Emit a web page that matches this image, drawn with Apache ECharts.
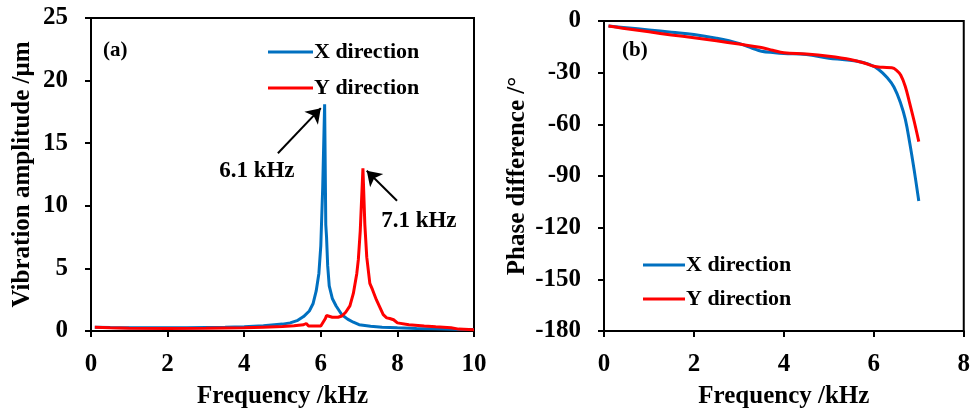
<!DOCTYPE html>
<html>
<head>
<meta charset="utf-8">
<script src="https://cdn.jsdelivr.net/npm/echarts@6/dist/echarts.min.js"></script>
<style>
  html, body { margin: 0; padding: 0; background: #fff; }
  #main { width: 973px; height: 414px; }
</style>
</head>
<body>
<div id="main"></div>
<script>
// (a) vibration amplitude spectra
const ampFreqX = [0.1,0.5,1,1.5,2,2.5,3,3.5,4,4.5,5,5.2,5.4,5.55,5.7,5.8,5.88,5.95,6.0,6.05,6.1,6.13,6.15,6.18,6.22,6.3,6.4,6.55,6.7,6.85,7.0,7.3,7.6,8.0,8.5,9.0,9.5,10];
const ampX     = [0.3,0.28,0.26,0.25,0.25,0.26,0.28,0.3,0.34,0.42,0.55,0.65,0.85,1.15,1.6,2.2,3.2,4.6,6.8,11.5,18.1,8.5,7.5,5.2,3.6,2.6,2.0,1.3,0.95,0.7,0.5,0.38,0.3,0.25,0.2,0.17,0.14,0.12];
const ampFreqY = [0.1,0.5,1,2,3,4,4.5,5,5.3,5.55,5.62,5.68,5.8,6.0,6.05,6.12,6.15,6.3,6.45,6.55,6.65,6.76,6.85,6.94,6.98,7.03,7.1,7.15,7.2,7.28,7.35,7.45,7.63,7.72,7.8,7.9,8.0,8.3,8.7,9.0,9.4,9.6,10];
const ampY     = [0.3,0.25,0.22,0.2,0.22,0.25,0.3,0.35,0.42,0.5,0.6,0.4,0.4,0.4,0.4,1.0,1.24,1.1,1.1,1.2,1.5,2.0,3.0,4.6,5.7,8.0,13.0,8.5,5.9,3.8,3.3,2.5,1.3,1.05,1.0,0.9,0.65,0.5,0.4,0.33,0.26,0.15,0.1];

// resonance peaks [frequency kHz, amplitude µm]
const peakX = [6.1, 18.1];
const peakY = [7.1, 13.0];

// (b) phase difference
const phaseFreqX = [0.1,0.5,1,1.5,2,2.5,3,3.3,3.5,3.8,4,4.5,5,5.3,5.6,5.9,6.1,6.3,6.45,6.6,6.7,6.8,6.9,7.0];
const phaseX     = [-2.9,-3.9,-5.2,-6.5,-7.8,-10.0,-13.0,-15.8,-17.6,-18.4,-18.8,-19.5,-21.6,-22.4,-23.2,-25.2,-28.0,-33,-38.5,-48,-57,-71,-87,-104.5];
const phaseFreqY = [0.1,0.5,1,1.5,2,2.5,3,3.5,3.75,4,4.5,5,5.5,5.8,6.0,6.2,6.4,6.5,6.6,6.7,6.8,6.9,7.0];
const phaseY     = [-2.9,-4.5,-6.3,-8.1,-9.7,-11.5,-13.4,-15.4,-17,-18.5,-19.2,-20.5,-22.5,-24.5,-26.3,-26.9,-27.2,-28.5,-31.5,-38,-48,-58.5,-70];

const seriesNames = ['X direction', 'Y direction'];
const colors = ['#0070C0', '#FF0000'];
const ampTicks = [0, 25, 5];
const ampFreqTicks = [0, 10, 2];
const phaseTicks = [-180, 0, 30];
const phaseFreqTicks = [0, 8, 2];

const zip = (a, b) => a.map((v, i) => [v, b[i]]);
const FONT = 'Liberation Serif';

const axisCommon = {
  axisLine: { show: true, onZero: false, lineStyle: { color: '#000', width: 2 } },
  axisTick: { show: true, inside: false, length: 6, lineStyle: { color: '#000', width: 2 } },
  splitLine: { show: false },
  axisLabel: { color: '#000', fontFamily: FONT, fontWeight: 'bold', fontSize: 25 },
  nameTextStyle: { color: '#000', fontFamily: FONT, fontWeight: 'bold', fontSize: 25 },
  nameLocation: 'middle'
};

function xAxis(grid, t) {
  return Object.assign({}, axisCommon, {
    type: 'value', gridIndex: grid, min: t[0], max: t[1], interval: t[2],
    name: 'Frequency /kHz', nameGap: 53,
    axisLabel: Object.assign({}, axisCommon.axisLabel, { margin: 21 })
  });
}
function yAxis(grid, t, name, gap) {
  return Object.assign({}, axisCommon, {
    type: 'value', gridIndex: grid, min: t[0], max: t[1], interval: t[2],
    name: name, nameGap: gap, nameRotate: 90,
    axisLabel: Object.assign({}, axisCommon.axisLabel, { margin: 23 })
  });
}

function line(name, data, xi, yi, color, smooth) {
  return {
    name: name, type: 'line', xAxisIndex: xi, yAxisIndex: yi, data: data,
    showSymbol: false, symbol: 'none', smooth: smooth,
    lineStyle: { color: color, width: 3 }, itemStyle: { color: color },
    animation: false, z: 3
  };
}

// arrow from a label anchor to a point just beside the peak
function arrow(from, to) {
  return [{ coord: from, symbol: 'none' }, { coord: to, symbol: 'arrow', symbolSize: 14 }];
}
function note(text, at) {
  return {
    coord: at, value: text, symbol: 'circle', symbolSize: 1,
    itemStyle: { color: 'rgba(0,0,0,0)' },
    label: { show: true, position: 'inside', formatter: text, color: '#000',
             fontFamily: FONT, fontWeight: 'bold', fontSize: 23 }
  };
}
function arrowLayer(data) {
  return {
    silent: true, symbol: ['none', 'arrow'], symbolSize: 14, animation: false,
    lineStyle: { color: '#000', width: 2, type: 'solid' }, label: { show: false },
    emphasis: { disabled: true }, data: data
  };
}

const seriesX = line(seriesNames[0], zip(ampFreqX, ampX), 0, 0, colors[0], false);
seriesX.markLine = arrowLayer([arrow([peakX[0] - 1.22, peakX[1] - 3.9], [peakX[0] - 0.1, peakX[1] - 0.3])]);
seriesX.markPoint = { silent: true, animation: false,
  data: [note(peakX[0].toFixed(1) + ' kHz', [peakX[0] - 1.77, peakX[1] - 5.3])] };

const seriesY = line(seriesNames[1], zip(ampFreqY, ampY), 0, 0, colors[1], false);
seriesY.markLine = arrowLayer([arrow([peakY[0] + 0.89, peakY[1] - 2.6], [peakY[0] + 0.1, peakY[1] - 0.2])]);
seriesY.markPoint = { silent: true, animation: false,
  data: [note(peakY[0].toFixed(1) + ' kHz', [peakY[0] + 1.46, peakY[1] - 4.2])] };

const legendCommon = {
  orient: 'vertical', icon: 'rect', itemHeight: 3, selectedMode: false, padding: 0,
  data: seriesNames,
  textStyle: { color: '#000', fontFamily: FONT, fontWeight: 'bold', fontSize: 22, padding: [0, 0, 0, -4] }
};

const option = {
  backgroundColor: '#fff',
  animation: false,
  grid: [
    { left: 91, right: 499, top: 18, bottom: 79, show: true, borderColor: '#000', borderWidth: 2 },
    { left: 604, right: 9, top: 21, bottom: 79, show: true, borderColor: '#000', borderWidth: 2 }
  ],
  xAxis: [xAxis(0, ampFreqTicks), xAxis(1, phaseFreqTicks)],
  yAxis: [
    yAxis(0, ampTicks, 'Vibration amplitude /μm', 56),
    yAxis(1, phaseTicks, 'Phase difference /°', 74)
  ],
  legend: [
    Object.assign({}, legendCommon, { left: 268, top: 41, itemWidth: 45, itemGap: 14 }),
    Object.assign({}, legendCommon, { left: 643, top: 254, itemWidth: 42, itemGap: 12 })
  ],
  graphic: [
    { type: 'text', left: 103, top: 40, style: { text: '(a)', fill: '#000', font: 'bold 21px "Liberation Serif"' } },
    { type: 'text', left: 622, top: 40, style: { text: '(b)', fill: '#000', font: 'bold 21px "Liberation Serif"' } }
  ],
  series: [
    seriesX,
    seriesY,
    line(seriesNames[0], zip(phaseFreqX, phaseX), 1, 1, colors[0], 0.4),
    line(seriesNames[1], zip(phaseFreqY, phaseY), 1, 1, colors[1], 0.4)
  ]
};

const chart = echarts.init(document.getElementById('main'), null, { renderer: 'canvas' });
chart.setOption(option);
</script>
</body>
</html>
